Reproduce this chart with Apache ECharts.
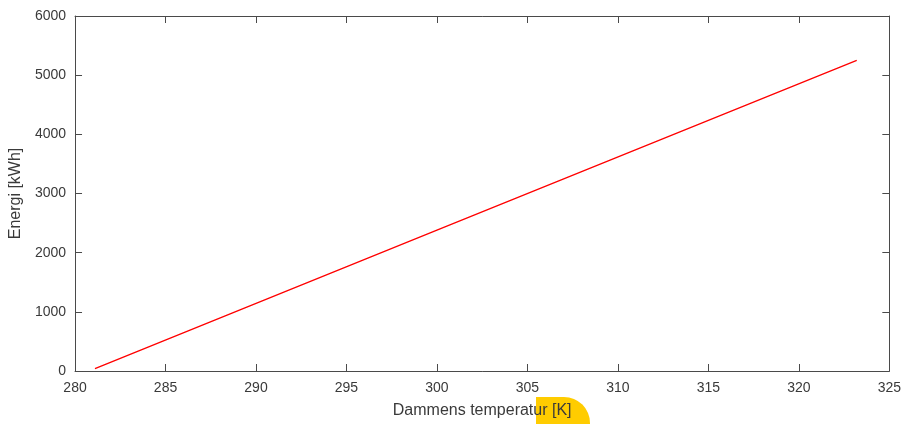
<!DOCTYPE html>
<html><head><meta charset="utf-8">
<script src="https://cdn.jsdelivr.net/npm/echarts@6/dist/echarts.min.js"></script>
<style>html,body{margin:0;padding:0;background:#fff}#c{width:904px;height:424px}</style>
</head><body><div id="c"></div>
<script>
const temps = [281.1, 300, 323.2];
const energy = [40, 2380, 5250];
const xName = 'Dammens temperatur [K]';
const yName = 'Energi [kWh]';

const font = 'Liberation Sans, Arial, sans-serif';
const axCol = '#4a4a4a';
const txtCol = '#3a3a3a';
function xa(pos, show) {
  return {
    type: 'value', position: pos, min: 280, max: 325, interval: 5,
    axisLine: { show: true, onZero: false, lineStyle: { color: axCol, width: 1 } },
    axisTick: { show: true, inside: true, length: 7, lineStyle: { color: axCol } },
    axisLabel: { show: show, color: txtCol, fontFamily: font, fontSize: 14, margin: 10 },
    splitLine: { show: false },
    name: show ? xName : '', nameLocation: 'middle', nameGap: 32,
    nameTextStyle: { color: txtCol, fontFamily: font, fontSize: 16 }
  };
}
function ya(pos, show) {
  return {
    type: 'value', position: pos, min: 0, max: 6000, interval: 1000,
    axisLine: { show: true, onZero: false, lineStyle: { color: axCol, width: 1 } },
    axisTick: { show: true, inside: true, length: 7, lineStyle: { color: axCol } },
    axisLabel: { show: show, color: txtCol, fontFamily: font, fontSize: 14, margin: 9,
                 formatter: v => String(v) },
    splitLine: { show: false },
    name: show ? yName : '', nameLocation: 'middle', nameGap: 41, nameRotate: 90,
    nameTextStyle: { color: txtCol, fontFamily: font, fontSize: 16 }
  };
}
const chart = echarts.init(document.getElementById('c'), null, { renderer: 'canvas' });
chart.setOption({
  animation: false,
  grid: { left: 72, right: 12, top: 16, bottom: 50 },
  xAxis: [xa('bottom', true), xa('top', false)],
  yAxis: [ya('left', true), ya('right', false)],
  graphic: [{
    type: 'rect', left: 536, top: 397, z: -10,
    shape: { width: 54, height: 40, r: [0, 26, 0, 0] },
    style: { fill: '#FFCC00' }
  }],
  series: [{
    type: 'line', xAxisIndex: 0, yAxisIndex: 0,
    data: temps.map((t, i) => [t, energy[i]]),
    showSymbol: false, symbol: 'none',
    lineStyle: { color: '#ff0000', width: 1.3 }
  }]
});
</script></body></html>
